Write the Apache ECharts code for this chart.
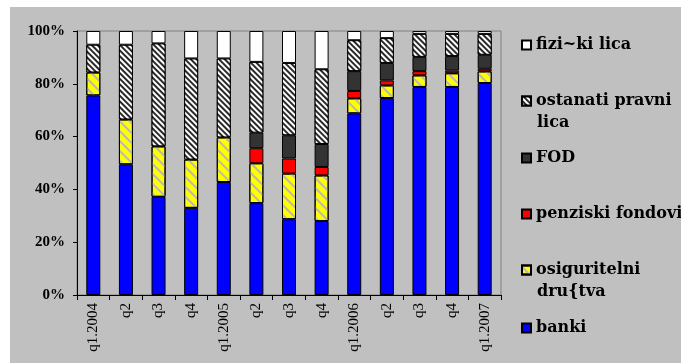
<!DOCTYPE html>
<html>
<head>
<meta charset="utf-8">
<script src="https://cdn.jsdelivr.net/npm/echarts@6/dist/echarts.min.js"></script>
<style>
  html, body { margin: 0; padding: 0; background: #fff; }
  #chart { width: 681px; height: 363px; }
</style>
</head>
<body>
<div id="chart"></div>
<script>
// kvartali
var categories = ['q1.2004', 'q2', 'q3', 'q4', 'q1.2005', 'q2', 'q3', 'q4', 'q1.2006', 'q2', 'q3', 'q4', 'q1.2007']
// udeli vo % (od dolu nagore)
var banki = [75.6, 49.5, 37.2, 33.0, 42.8, 34.8, 28.7, 28.0, 68.8, 74.6, 78.8, 78.8, 80.3]
var osiguritelni = [8.7, 17.0, 19.1, 18.3, 16.9, 15.1, 17.3, 17.3, 5.7, 4.8, 4.4, 5.2, 4.4]
var penziski = [0, 0, 0, 0, 0, 5.7, 5.7, 3.2, 2.8, 1.9, 1.6, 1.0, 1.0]
var fod = [0, 0, 0, 0, 0, 5.9, 8.8, 8.7, 7.5, 6.6, 5.4, 5.5, 5.3]
var ostanati = [10.5, 28.3, 39.0, 38.3, 29.9, 26.8, 27.4, 28.3, 11.7, 9.4, 8.7, 8.4, 7.9]
var fizicki = [5.2, 5.2, 4.7, 10.4, 10.4, 11.7, 12.1, 14.5, 3.5, 2.7, 1.1, 1.1, 1.1]
var yTicks = [0, 20, 40, 60, 80, 100]

var myChart = echarts.init(document.getElementById('chart'))

var serif = 'Liberation Serif'
var legendFont = { fontFamily: 'DejaVu Serif', fontWeight: 'bold', fontSize: 16, color: '#000' }

function bar(name, data, color, decal) {
  var s = {
    name: name,
    type: 'bar',
    stack: 'vkupno',
    barWidth: 14,
    data: data.map(function (v) { return v === 0 ? null : v }),
    itemStyle: { color: color, borderColor: '#000', borderWidth: 1 }
  }
  if (decal) s.itemStyle.decal = decal
  return s
}

function legendItem(name, top) {
  return {
    data: [{ name: name, icon: 'rect' }],
    left: 521,
    top: top,
    padding: 0,
    itemWidth: 9,
    itemHeight: 9,
    itemGap: 0,
    selectedMode: false,
    textStyle: legendFont
  }
}

var option = {
  animation: false,
  graphic: [
    { type: 'rect', z: -10, shape: { x: 10, y: 7, width: 671, height: 356 }, style: { fill: '#c0c0c0' } },
    { type: 'text', left: 537, top: 115, style: { text: 'lica', font: 'bold 16px "DejaVu Serif"', fill: '#000' } },
    { type: 'text', left: 537, top: 284, style: { text: 'dru{tva', font: 'bold 16px "DejaVu Serif"', fill: '#000' } }
  ],
  legend: [
    legendItem('fizi~ki lica', 37),
    legendItem('ostanati pravni', 93),
    legendItem('FOD', 150),
    legendItem('penziski fondovi', 206),
    legendItem('osiguritelni', 262),
    legendItem('banki', 320)
  ],
  grid: {
    left: 77,
    right: 180,
    top: 31,
    bottom: 68,
    show: true,
    borderColor: '#808080',
    borderWidth: 1,
    backgroundColor: 'transparent'
  },
  xAxis: {
    type: 'category',
    data: categories,
    axisLine: { lineStyle: { color: '#000', width: 1 } },
    axisTick: { show: true, length: 5, lineStyle: { color: '#000' } },
    axisLabel: { rotate: 90, margin: 8, fontFamily: serif, fontSize: 15, color: '#000', interval: 0 }
  },
  yAxis: {
    type: 'value',
    min: yTicks[0],
    max: yTicks[yTicks.length - 1],
    interval: 20,
    splitLine: { show: false },
    axisLine: { show: true, lineStyle: { color: '#000', width: 1 } },
    axisTick: { show: true, length: 4, lineStyle: { color: '#000' } },
    axisLabel: { formatter: '{value}%', margin: 12, fontFamily: serif, fontWeight: 'bold', fontSize: 15, color: '#000' }
  },
  series: [
    bar('banki', banki, '#0000ff'),
    bar('osiguritelni', osiguritelni, '#ffff00', {
      symbol: 'rect', symbolSize: 1, color: '#b8b8b8',
      dashArrayX: [1, 0], dashArrayY: [2, 5], rotation: Math.PI / 4
    }),
    bar('penziski fondovi', penziski, '#ff0000'),
    bar('FOD', fod, '#333333'),
    bar('ostanati pravni', ostanati, '#2a2a2a', {
      symbol: 'rect', symbolSize: 1, color: '#ffffff',
      dashArrayX: [1, 0], dashArrayY: [1.5, 1.5], rotation: Math.PI / 4
    }),
    bar('fizi~ki lica', fizicki, '#ffffff')
  ]
}

myChart.setOption(option)
</script>
</body>
</html>
